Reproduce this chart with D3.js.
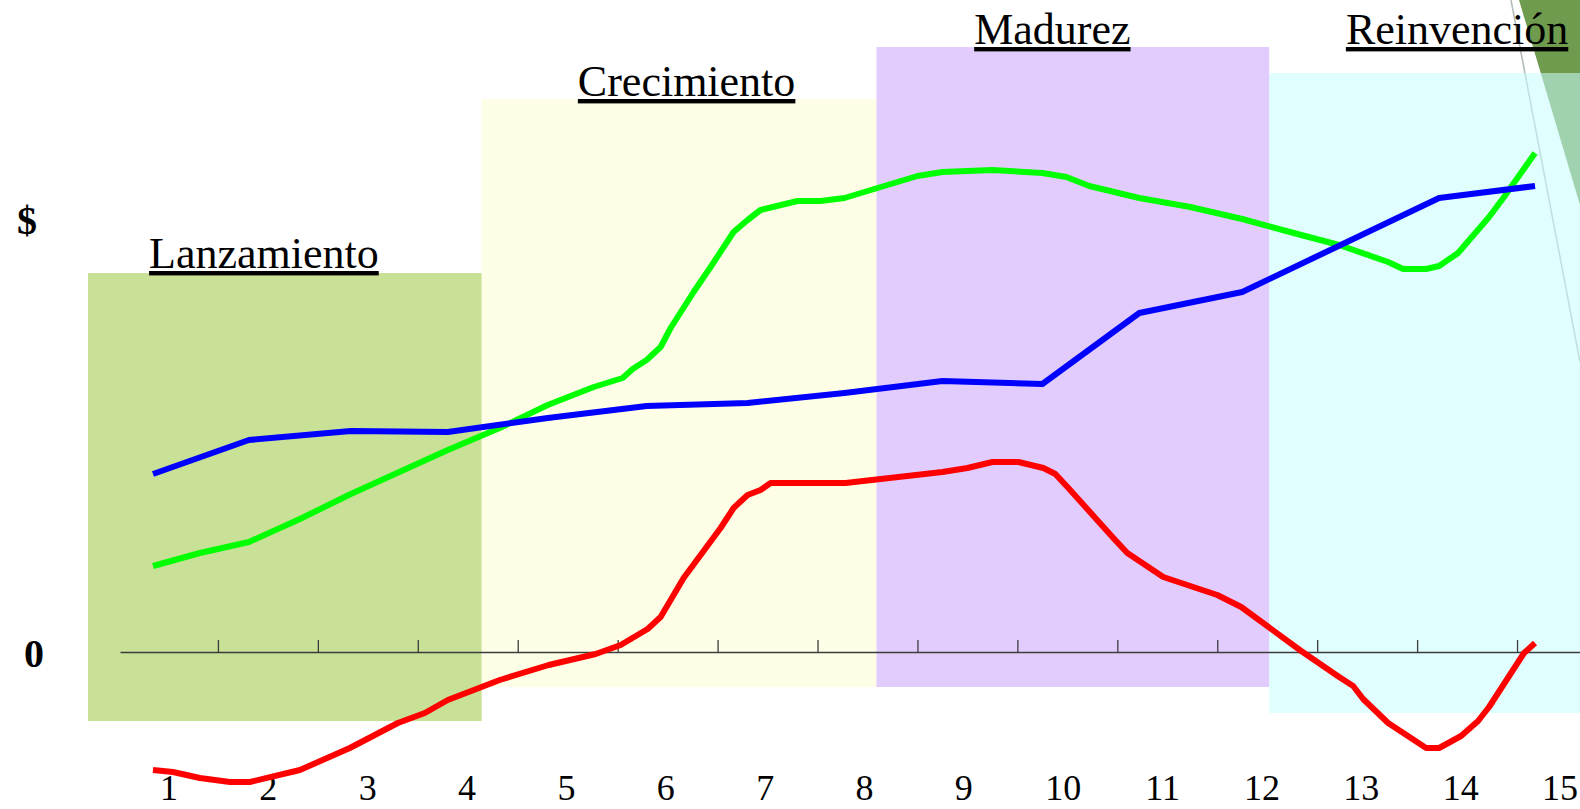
<!DOCTYPE html>
<html>
<head>
<meta charset="utf-8">
<script src="https://cdn.jsdelivr.net/npm/d3@7"></script>
<style>
  body { margin: 0; background: #fff; }
  svg { display: block; font-family: 'Liberation Serif', 'Times New Roman', serif; }
  .axis path, .axis line { stroke: #3c3c3c; stroke-width: 1.3; }
</style>
</head>
<body>
<div class="chart"></div>
<script>
var width = 1580;
var height = 809;

// periods on the x axis
var periods = [1, 2, 3, 4, 5, 6, 7, 8, 9, 10, 11, 12, 13, 14, 15];

// life cycle phases (in periods)
var phases = ['Lanzamiento', 'Crecimiento', 'Madurez', 'Reinvención'];
var phaseStart = [0.2, 4.14, 8.09, 12.02];
var phaseEnd = [4.14, 8.09, 12.02, 16];

// green curve
var greenX = [0.85, 1.32, 1.81, 2.32, 2.83, 3.80, 4.32, 4.80, 5.26, 5.55, 5.65, 5.79, 5.93, 6.03,
              6.26, 6.43, 6.66, 6.80, 6.93, 7.30, 7.53, 7.77, 8.10, 8.50, 8.75, 9.25, 9.75, 9.99,
              10.22, 10.72, 11.23, 11.75, 12.34, 12.72, 13.21, 13.36, 13.59, 13.72, 13.91, 14.22,
              14.37, 14.68];
var greenY = [17.2, 19.8, 22.0, 26.6, 31.6, 40.4, 44.8, 49.4, 53.0, 54.8, 56.6, 58.4, 61.0, 64.8,
              72.0, 77.0, 84.0, 86.4, 88.4, 90.2, 90.2, 90.8, 92.8, 95.2, 96.0, 96.4, 95.8, 95.0,
              93.2, 90.8, 89.0, 86.6, 83.4, 81.4, 78.0, 76.6, 76.6, 77.2, 79.8, 87.0,
              91.0, 99.8];

// blue curve
var blueX = [0.85, 1.81, 2.83, 3.80, 4.80, 5.79, 6.80, 7.77, 8.75, 9.75, 10.72, 11.75, 13.72, 14.68];
var blueY = [35.6, 42.4, 44.2, 44.0, 46.8, 49.2, 49.8, 51.8, 54.2, 53.6, 67.8, 72.0, 90.8, 93.2];

// red curve
var redX = [0.85, 1.05, 1.32, 1.62, 1.82, 2.32, 2.82, 3.30, 3.57, 3.80, 4.32, 4.81, 5.28, 5.53,
            5.80, 5.93, 6.16, 6.53, 6.66, 6.80, 6.93, 7.03, 7.78, 8.75, 9.00, 9.25, 9.51, 9.76,
            9.88, 10.01, 10.46, 10.60, 10.96, 11.50, 11.74, 12.34, 12.72, 12.86, 12.96, 13.21,
            13.59, 13.72, 13.94, 14.11, 14.22, 14.57, 14.68];
var redY = [-23.6, -24.0, -25.2, -26.0, -26.0, -23.6, -19.2, -14.2, -12.2, -9.6, -5.6, -2.6, -0.4, 1.4,
            4.6, 7.0, 14.8, 24.8, 28.8, 31.4, 32.4, 33.8, 33.8, 36.0, 36.8, 38.0, 38.0, 36.8,
            35.6, 32.8, 22.8, 19.8, 15.0, 11.4, 9.0, 0.2, -5.0, -6.8, -9.4, -14.2,
            -19.2, -19.2, -16.8, -13.8, -11.0, -0.2, 1.8];

// layout of the phase boxes and titles
var boxTop = [75.8, 110.6, 121, 115.8];
var boxBottom = [-13.8, -7, -7, -12.2];
var boxColor = ['#c9e097', '#fefee6', '#e2ccfd', 'rgb(200,253,253)'];
var boxOpacity = [1, 1, 1, 0.56];
var titleX = [1.96, 6.19, 9.85, 13.9];
var titleY = [76.8, 111.2, 121.6, 121.6];

var x = d3.scaleLinear()
    .domain([0.52, 15.13])
    .range([120, 1580]);
var y = d3.scaleLinear()
    .domain([0, 100])
    .range([652, 152]);
var xLabel = d3.scalePoint()
    .domain(periods)
    .range([169, 1560]);

var svg = d3.select('div.chart').append('svg')
    .attr('width', width)
    .attr('height', height);

// corner decoration
svg.append('polygon')
    .attr('points', '1519,0 1580,0 1580,205')
    .attr('fill', '#6f9b4e');
svg.append('line')
    .attr('x1', 1511).attr('y1', 0)
    .attr('x2', 1580).attr('y2', 362)
    .attr('stroke', '#b4bcbc')
    .attr('stroke-width', 1.6);

svg.selectAll('rect.phase')
  .data(phases).enter().append('rect')
    .attr('class', 'phase')
    .attr('x', (d, i) => x(phaseStart[i]))
    .attr('width', (d, i) => x(phaseEnd[i]) - x(phaseStart[i]))
    .attr('y', (d, i) => y(boxTop[i]))
    .attr('height', (d, i) => y(boxBottom[i]) - y(boxTop[i]))
    .attr('fill', (d, i) => boxColor[i])
    .attr('fill-opacity', (d, i) => boxOpacity[i]);

svg.selectAll('text.phase')
  .data(phases).enter().append('text')
    .attr('class', 'phase')
    .attr('x', (d, i) => x(titleX[i]))
    .attr('y', (d, i) => y(titleY[i]))
    .attr('text-anchor', 'middle')
    .attr('font-size', 44)
    .style('text-decoration', 'underline')
    .text(d => d);

var ticks = d3.range(1.5, 15, 1);

svg.append('g')
    .attr('class', 'axis')
    .attr('transform', 'translate(0,' + y(0) + ')')
    .call(d3.axisBottom(x)
          .tickValues(ticks)
          .tickSizeInner(-12)
          .tickSizeOuter(0)
          .tickFormat(''));

svg.selectAll('text.period')
  .data(periods).enter().append('text')
    .attr('class', 'period')
    .attr('x', d => xLabel(d))
    .attr('y', 800)
    .attr('text-anchor', 'middle')
    .attr('font-size', 36)
    .text(d => d);

svg.append('text')
    .attr('x', 27)
    .attr('y', y(83.6))
    .attr('text-anchor', 'middle')
    .attr('font-size', 40)
    .attr('font-weight', 'bold')
    .text('$');

svg.append('text')
    .attr('x', 34)
    .attr('y', y(0) + 15)
    .attr('text-anchor', 'middle')
    .attr('font-size', 40)
    .attr('font-weight', 'bold')
    .text('0');

var line = d3.line()
    .x(d => x(d[0]))
    .y(d => y(d[1]));

var series = [
  {color: '#00ff00', xs: greenX, ys: greenY},
  {color: '#0000ff', xs: blueX, ys: blueY},
  {color: '#ff0000', xs: redX, ys: redY}
];

svg.selectAll('path.curve')
  .data(series).enter().append('path')
    .attr('class', 'curve')
    .attr('d', s => line(d3.zip(s.xs, s.ys)))
    .attr('fill', 'none')
    .attr('stroke', s => s.color)
    .attr('stroke-width', 6)
    .attr('stroke-linejoin', 'round');
</script>
</body>
</html>
